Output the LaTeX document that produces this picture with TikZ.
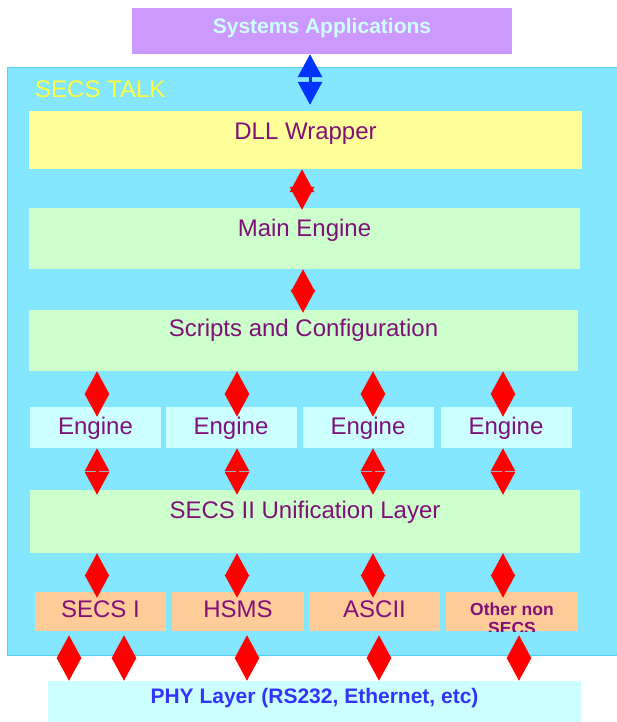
\documentclass[tikz,border=0pt]{standalone}
\usepackage{fontspec}
\setmainfont{Liberation Sans}
\usetikzlibrary{arrows.meta}

\definecolor{talkfill}{RGB}{132,230,255}
\definecolor{talkedge}{RGB}{90,205,245}
\definecolor{talkyellow}{RGB}{255,255,60}
\definecolor{sysfill}{RGB}{204,153,255}
\definecolor{systext}{RGB}{204,255,255}
\definecolor{dllfill}{RGB}{255,255,153}
\definecolor{layfill}{RGB}{204,255,204}
\definecolor{engfill}{RGB}{204,255,255}
\definecolor{portfill}{RGB}{255,204,153}
\definecolor{laytext}{RGB}{128,16,120}
\definecolor{phytext}{RGB}{51,51,255}
\definecolor{apiblue}{RGB}{0,51,255}

\begin{document}
\begin{tikzpicture}[x=1pt,y=-1pt,
		layer/.style={inner sep=0pt, text=laytext, font=\fontsize{24}{28}\selectfont, text height=17pt, text depth=#1},
		layer/.default=6pt,
		link/.style={draw=red, line width=3pt, {Triangle[width=24pt,length=23pt]}-{Triangle[width=24pt,length=23pt]}}]
	\useasboundingbox (0,0) rectangle (617,722);
	
	% outer frame and top box
	\node (secstalk) [fill=talkfill, draw=talkedge, line width=1pt, inner sep=0pt, minimum width=614pt, minimum height=587pt] at (314,361.5) {};
	\node (talklabel) [anchor=base west, inner sep=0pt, text=talkyellow, font=\fontsize{24}{28}\selectfont] at (35,98) {SECS TALK};
	\node (sys) [fill=sysfill, inner sep=0pt, minimum width=380pt, minimum height=46pt, text=systext, font=\bfseries\fontsize{21}{25}\selectfont, text height=15pt, text depth=9pt] at (322,31) {Systems Applications};
	
	% layers
	\node (dll) [layer=17pt, fill=dllfill, minimum width=553pt, minimum height=58pt] at (305.5,140) {DLL Wrapper};
	\node (main) [layer=22pt, fill=layfill, minimum width=551pt, minimum height=61pt] at (304.5,238.5) {Main Engine};
	\node (scripts) [layer=26pt, fill=layfill, minimum width=549pt, minimum height=61pt] at (303.5,340.5) {Scripts and Configuration};
	\foreach \x [count=\i] in {95.5,231,368,506}
		\node (eng\i) [layer=4pt, fill=engfill, minimum width=131pt, minimum height=41pt] at (\x,427.5) {Engine};
	\node (unif) [layer=24pt, fill=layfill, minimum width=550pt, minimum height=63pt] at (305,521.5) {SECS II Unification Layer};
	
	% ports
	\node (secsone) [layer, fill=portfill, minimum width=131pt, minimum height=39pt] at (100.5,611.5) {SECS I};
	\node (hsms) [layer, fill=portfill, minimum width=132pt, minimum height=39pt] at (238,611.5) {HSMS};
	\node (ascii) [layer, fill=portfill, minimum width=131pt, minimum height=39pt] at (374.5,611.5) {ASCII};
	\node (other) [fill=portfill, inner sep=0pt, minimum width=132pt, minimum height=39pt,
		path picture={\node (othertext) [anchor=north, inner sep=0pt, align=center, text=laytext, font=\bfseries\fontsize{17.5}{19}\selectfont] at ([yshift=-7pt]path picture bounding box.north) {Other non\\SECS};}] at (512,611.5) {};
	\node (phy) [fill=engfill, inner sep=0pt, minimum width=533pt, minimum height=41pt, text=phytext, font=\bfseries\fontsize{21}{25}\selectfont, text height=15pt, text depth=12pt] at (314.5,701.5) {PHY Layer (RS232, Ethernet, etc)};
	
	% arrows
	\draw[link, draw=apiblue, shorten >=6pt] (310,0 |- sys.south) -- (310,0 |- dll.north);
	\draw[link, shorten >=-2pt] (302,0 |- dll.south) -- (302,0 |- main.north);
	\draw[link, shorten >=-3pt] (303,0 |- main.south) -- (303,0 |- scripts.north);
	\foreach \x/\e/\p in {97/eng1/secsone, 237/eng2/hsms, 373/eng3/ascii, 503/eng4/other} {
		\draw[link, shorten >=-10pt] (\x,0 |- scripts.south) -- (\x,0 |- \e.north);
		\draw[link, shorten >=-5pt] (\x,0 |- \e.south) -- (\x,0 |- unif.north);
		\draw[link, shorten >=-6pt] (\x,0 |- unif.south) -- (\x,0 |- \p.north);
	}
	\foreach \x/\p in {69/secsone, 124/secsone, 247/hsms, 379/ascii, 519/other}
		\draw[link, shorten <=4pt] (\x,0 |- \p.south) -- (\x,0 |- phy.north);
\end{tikzpicture}
\end{document}
